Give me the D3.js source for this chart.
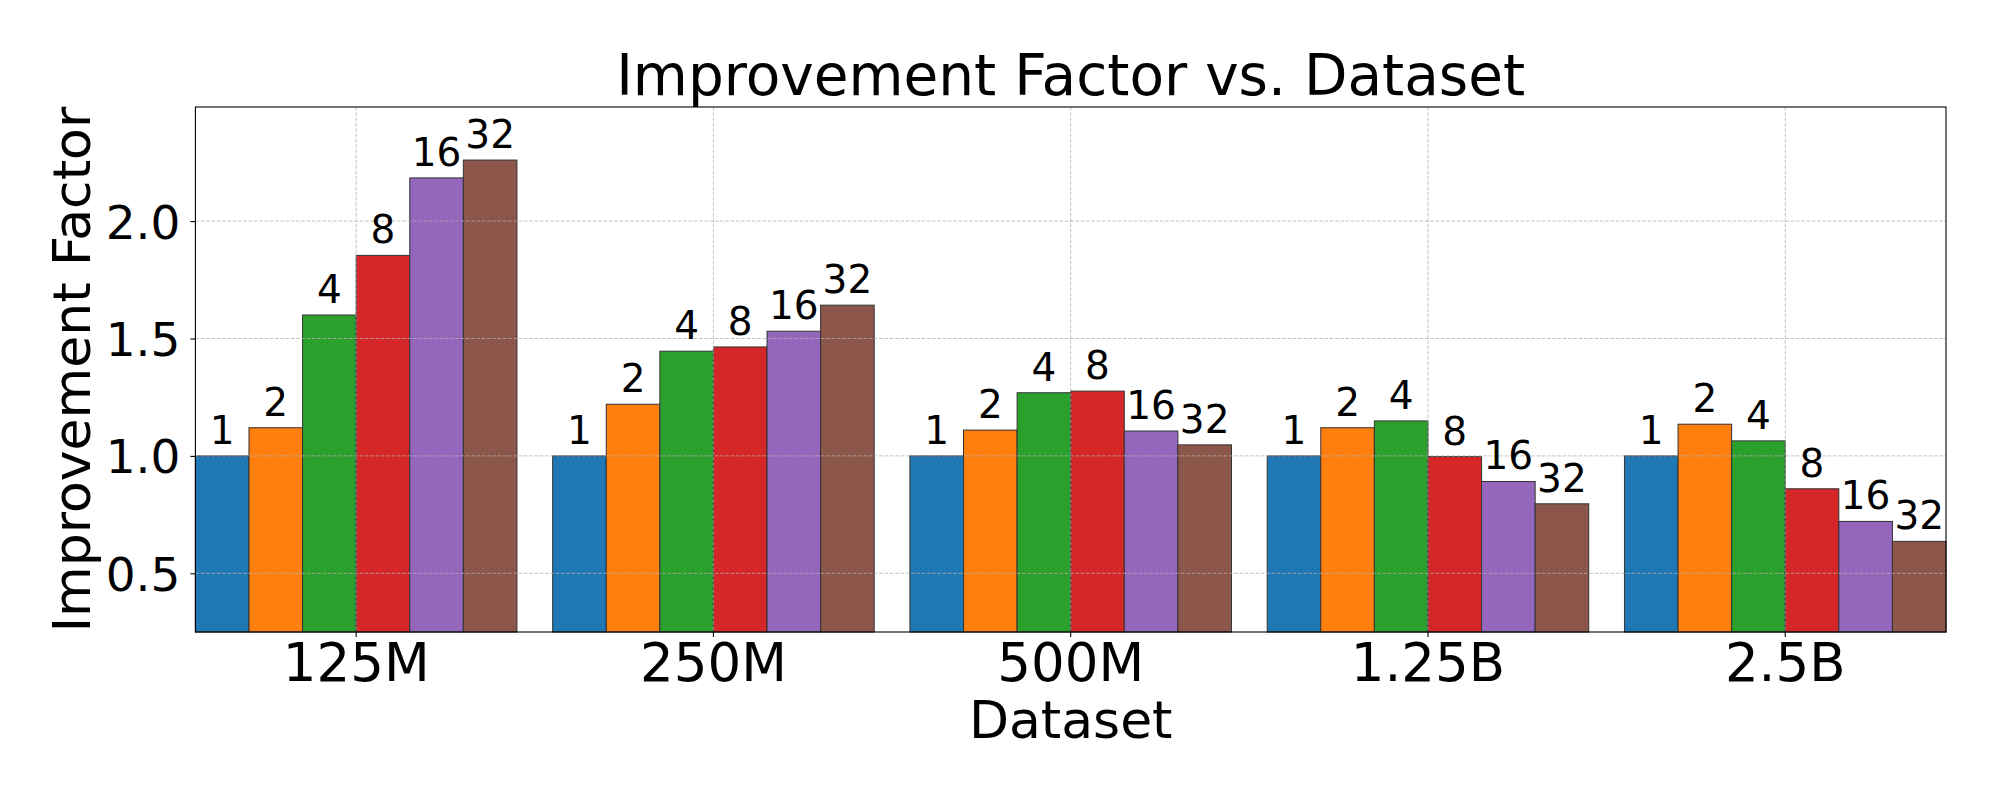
<!DOCTYPE html>
<html>
<head>
<meta charset="utf-8">
<script src="https://cdn.jsdelivr.net/npm/d3@7"></script>
<style>
  html, body { margin: 0; padding: 0; background: #fff; }
  svg { display: block; font-family: "DejaVu Sans", sans-serif; }
</style>
</head>
<body>
<svg id="chart" width="2000" height="800"></svg>
<script>
// ---- data ----
const datasets = ["125M", "250M", "500M", "1.25B", "2.5B"];
const seriesNames = ["1", "2", "4", "8", "16", "32"];
const seriesColors = ["#1f77b4", "#ff7f0e", "#2ca02c", "#d62728", "#9467bd", "#8c564b"];
const values1  = [1.00, 1.00, 1.00, 1.00, 1.00];
const values2  = [1.12, 1.22, 1.11, 1.12, 1.135];
const values4  = [1.60, 1.446, 1.269, 1.149, 1.064];
const values8  = [1.854, 1.464, 1.276, 0.997, 0.860];
const values16 = [2.184, 1.531, 1.106, 0.891, 0.721];
const values32 = [2.26, 1.642, 1.047, 0.796, 0.636];
const yTicks = [0.5, 1.0, 1.5, 2.0];
const titleText = "Improvement Factor vs. Dataset";
const xLabelText = "Dataset";
const yLabelText = "Improvement Factor";

const allSeries = [values1, values2, values4, values8, values16, values32];

// ---- layout ----
const L = 195.4, R = 1946, T = 107, B = 632;
const svg = d3.select("#chart");

const x = d3.scaleBand().domain(datasets).range([L, R]).paddingInner(0.1).paddingOuter(0);
const xs = d3.scaleBand().domain(seriesNames).range([0, x.bandwidth()]).padding(0);
const yMax = d3.max(allSeries.flat()) * 1.1;
const y = d3.scaleLinear().domain([0.25, yMax]).range([B, T]);

// bars
const rows = [];
allSeries.forEach((vals, si) => {
  vals.forEach((v, di) => rows.push({ ds: datasets[di], s: seriesNames[si], si, v }));
});

const barG = svg.append("g");
barG.selectAll("rect").data(rows).join("rect")
  .attr("x", d => x(d.ds) + xs(d.s))
  .attr("y", d => y(d.v))
  .attr("width", xs.bandwidth())
  .attr("height", d => B - y(d.v))
  .attr("fill", d => seriesColors[d.si])
  .attr("stroke", "#333")
  .attr("stroke-width", 1);

// grid (drawn above bars as in matplotlib default)
const gridG = svg.append("g")
  .attr("stroke", "#b0b0b0").attr("stroke-opacity", 0.75)
  .attr("stroke-width", 1).attr("stroke-dasharray", "3.7,1.6").attr("fill", "none");
gridG.selectAll("line.h").data(yTicks).join("line").attr("class", "h")
  .attr("x1", L).attr("x2", R).attr("y1", d => y(d)).attr("y2", d => y(d));
gridG.selectAll("line.v").data(datasets).join("line").attr("class", "v")
  .attr("x1", d => x(d) + x.bandwidth() / 2).attr("x2", d => x(d) + x.bandwidth() / 2)
  .attr("y1", T).attr("y2", B);

// bar labels
svg.append("g").selectAll("text").data(rows).join("text")
  .attr("x", d => x(d.ds) + xs(d.s) + xs.bandwidth() / 2)
  .attr("y", d => y(d.v) - 12)
  .attr("text-anchor", "middle")
  .attr("font-size", "39px")
  .attr("fill", "#000")
  .text(d => d.s);

// axes
const xAxis = d3.axisBottom(x).tickSize(5).tickPadding(9).tickSizeOuter(0);
const xg = svg.append("g").attr("transform", `translate(0,${B})`).call(xAxis);
xg.select(".domain").remove();
xg.selectAll(".tick line").attr("stroke", "#000").attr("stroke-width", 1.1);
xg.selectAll(".tick text").attr("font-size", "53px").attr("font-family", "DejaVu Sans")
  .attr("fill", "#000").attr("dy", null).attr("y", 48.7);

const yAxis = d3.axisLeft(y).tickValues(yTicks).tickFormat(d3.format(".1f")).tickSize(5).tickPadding(10).tickSizeOuter(0);
const yg = svg.append("g").attr("transform", `translate(${L},0)`).call(yAxis);
yg.select(".domain").remove();
yg.selectAll(".tick line").attr("stroke", "#000").attr("stroke-width", 1.1);
yg.selectAll(".tick text").attr("font-size", "47px").attr("font-family", "DejaVu Sans")
  .attr("fill", "#000").attr("dy", "0.36em").attr("x", -15);

// frame
svg.append("rect").attr("x", L).attr("y", T).attr("width", R - L).attr("height", B - T)
  .attr("fill", "none").attr("stroke", "#000").attr("stroke-width", 1.1);

// titles
const cx = (L + R) / 2;
svg.append("text").attr("x", cx).attr("y", 95).attr("text-anchor", "middle")
  .attr("font-size", "56.5px").attr("fill", "#000").text(titleText);
svg.append("text").attr("x", cx).attr("y", 738).attr("text-anchor", "middle")
  .attr("font-size", "52px").attr("fill", "#000").text(xLabelText);
svg.append("text").attr("transform", `translate(90,${(T + B) / 2}) rotate(-90)`)
  .attr("text-anchor", "middle").attr("font-size", "52px").attr("fill", "#000").text(yLabelText);
</script>
</body>
</html>
